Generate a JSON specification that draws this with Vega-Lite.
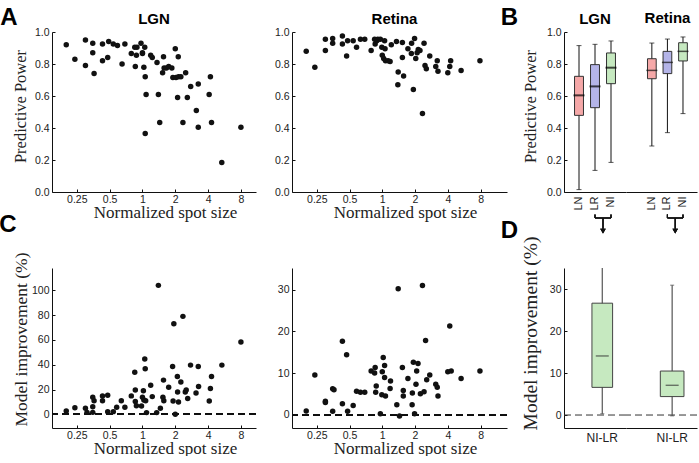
{
  "$schema": "https://vega.github.io/schema/vega-lite/v6.json",
  "background": "white",
  "padding": {"left": -1, "top": 6, "right": 0, "bottom": 0},
  "config": {
    "view": {"stroke": null},
    "axis": {
      "grid": false,
      "labelFont": "Liberation Sans",
      "labelFontSize": 10.5,
      "labelColor": "#222",
      "labelFlush": false,
      "labelOverlap": false,
      "domainColor": "#111",
      "tickColor": "#111",
      "tickSize": -3,
      "labelPadding": 6,
      "titleFont": "Liberation Serif",
      "titleFontSize": 17,
      "titleFontWeight": "normal",
      "titleColor": "#222"
    },
    "title": {"font": "Liberation Sans", "fontSize": 15, "fontWeight": "bold", "color": "#000"}
  },
  "datasets": {
    "aLGN": [
      {"s":0.2,"v":0.92},{"s":0.24,"v":0.83},{"s":0.3,"v":0.95},{"s":0.3,"v":0.79},{"s":0.35,"v":0.93},{"s":0.35,"v":0.87},{"s":0.36,"v":0.74},{"s":0.43,"v":0.925},{"s":0.43,"v":0.82},{"s":0.49,"v":0.94},{"s":0.48,"v":0.84},{"s":0.54,"v":0.925},{"s":0.59,"v":0.915},{"s":0.65,"v":0.8},{"s":0.69,"v":0.925},{"s":0.79,"v":0.865},{"s":0.85,"v":0.905},{"s":0.86,"v":0.785},{"s":0.88,"v":0.855},{"s":0.89,"v":0.905},{"s":0.97,"v":0.93},{"s":1.0,"v":0.865},{"s":1.0,"v":0.87},{"s":1.03,"v":0.78},{"s":1.05,"v":0.905},{"s":1.06,"v":0.72},{"s":1.08,"v":0.61},{"s":1.06,"v":0.365},{"s":1.19,"v":0.855},{"s":1.23,"v":0.84},{"s":1.36,"v":0.81},{"s":1.4,"v":0.61},{"s":1.44,"v":0.435},{"s":1.53,"v":0.745},{"s":1.56,"v":0.845},{"s":1.58,"v":0.775},{"s":1.66,"v":0.775},{"s":1.74,"v":0.785},{"s":1.86,"v":0.775},{"s":1.9,"v":0.715},{"s":2.0,"v":0.895},{"s":2.03,"v":0.715},{"s":2.1,"v":0.59},{"s":2.13,"v":0.845},{"s":2.14,"v":0.72},{"s":2.25,"v":0.72},{"s":2.35,"v":0.435},{"s":2.49,"v":0.745},{"s":2.58,"v":0.59},{"s":2.77,"v":0.66},{"s":3.12,"v":0.51},{"s":3.25,"v":0.675},{"s":3.25,"v":0.405},{"s":4.09,"v":0.61},{"s":4.2,"v":0.72},{"s":4.3,"v":0.435},{"s":5.34,"v":0.185},{"s":8.0,"v":0.405}
    ],
    "aRet": [
      {"s":0.2,"v":0.88},{"s":0.24,"v":0.78},{"s":0.3,"v":0.955},{"s":0.3,"v":0.885},{"s":0.35,"v":0.96},{"s":0.35,"v":0.93},{"s":0.43,"v":0.975},{"s":0.43,"v":0.925},{"s":0.47,"v":0.85},{"s":0.48,"v":0.945},{"s":0.54,"v":0.945},{"s":0.58,"v":0.905},{"s":0.63,"v":0.955},{"s":0.69,"v":0.955},{"s":0.79,"v":0.885},{"s":0.85,"v":0.955},{"s":0.86,"v":0.925},{"s":0.89,"v":0.945},{"s":0.91,"v":0.955},{"s":0.96,"v":0.955},{"s":0.99,"v":0.905},{"s":1.0,"v":0.855},{"s":1.03,"v":0.835},{"s":1.06,"v":0.895},{"s":1.05,"v":0.945},{"s":1.07,"v":0.82},{"s":1.13,"v":0.82},{"s":1.18,"v":0.815},{"s":1.21,"v":0.92},{"s":1.35,"v":0.94},{"s":1.4,"v":0.75},{"s":1.39,"v":0.67},{"s":1.53,"v":0.935},{"s":1.53,"v":0.84},{"s":1.57,"v":0.725},{"s":1.72,"v":0.895},{"s":1.86,"v":0.93},{"s":1.85,"v":0.865},{"s":1.93,"v":0.64},{"s":1.98,"v":0.96},{"s":2.03,"v":0.835},{"s":2.09,"v":0.87},{"s":2.14,"v":0.89},{"s":2.22,"v":0.885},{"s":2.34,"v":0.49},{"s":2.42,"v":0.93},{"s":2.47,"v":0.79},{"s":2.54,"v":0.77},{"s":2.73,"v":0.85},{"s":3.1,"v":0.785},{"s":3.2,"v":0.82},{"s":3.25,"v":0.755},{"s":4.0,"v":0.745},{"s":4.17,"v":0.785},{"s":4.25,"v":0.82},{"s":5.3,"v":0.76},{"s":7.9,"v":0.82}
    ],
    "cLGN": [
      {"s":0.2,"v":2.7},{"s":0.24,"v":5.4},{"s":0.3,"v":4.9},{"s":0.31,"v":1.6},{"s":0.35,"v":6.2},{"s":0.36,"v":11},{"s":0.35,"v":13.8},{"s":0.35,"v":1.6},{"s":0.43,"v":14.9},{"s":0.43,"v":11},{"s":0.48,"v":15.4},{"s":0.48,"v":2.2},{"s":0.54,"v":2.2},{"s":0.58,"v":5.7},{"s":0.64,"v":11},{"s":0.69,"v":5.7},{"s":0.79,"v":14.9},{"s":0.85,"v":34},{"s":0.86,"v":19.7},{"s":0.86,"v":10.3},{"s":0.88,"v":7},{"s":0.98,"v":6.8},{"s":1.0,"v":13.8},{"s":1.02,"v":19},{"s":1.03,"v":11.6},{"s":1.05,"v":44.6},{"s":1.06,"v":36.8},{"s":1.07,"v":11},{"s":1.09,"v":1.4},{"s":1.19,"v":23.5},{"s":1.23,"v":14.3},{"s":1.35,"v":1.4},{"s":1.4,"v":104},{"s":1.46,"v":4.9},{"s":1.56,"v":27.6},{"s":1.54,"v":13.8},{"s":1.57,"v":11},{"s":1.74,"v":21.9},{"s":1.89,"v":38.6},{"s":1.94,"v":73},{"s":1.91,"v":10.8},{"s":2.0,"v":0},{"s":2.09,"v":30.5},{"s":2.1,"v":18},{"s":2.14,"v":10},{"s":2.25,"v":26},{"s":2.35,"v":79},{"s":2.47,"v":18},{"s":2.52,"v":19.7},{"s":2.6,"v":12.7},{"s":2.76,"v":39.7},{"s":3.1,"v":17.3},{"s":3.25,"v":38.6},{"s":3.27,"v":22.4},{"s":4.1,"v":10.8},{"s":4.2,"v":20.8},{"s":4.3,"v":30.5},{"s":5.35,"v":39.7},{"s":8.0,"v":58.4}
    ],
    "cRet": [
      {"s":0.2,"v":0.9},{"s":0.24,"v":9.5},{"s":0.3,"v":3.2},{"s":0.3,"v":2.9},{"s":0.35,"v":6.2},{"s":0.36,"v":6},{"s":0.35,"v":0.8},{"s":0.43,"v":2.6},{"s":0.43,"v":17.6},{"s":0.47,"v":14.4},{"s":0.48,"v":0.8},{"s":0.54,"v":2.2},{"s":0.58,"v":5.6},{"s":0.63,"v":5.4},{"s":0.69,"v":5.4},{"s":0.79,"v":10.5},{"s":0.85,"v":10},{"s":0.86,"v":11.3},{"s":0.87,"v":5.4},{"s":0.88,"v":6.9},{"s":0.96,"v":0.2},{"s":0.99,"v":4.8},{"s":1.0,"v":10.3},{"s":1.02,"v":13.7},{"s":1.05,"v":11.8},{"s":1.05,"v":8.9},{"s":1.07,"v":4.5},{"s":1.19,"v":8.1},{"s":1.18,"v":6.3},{"s":1.36,"v":2.4},{"s":1.4,"v":30.2},{"s":1.44,"v":-0.3},{"s":1.53,"v":11.3},{"s":1.56,"v":5.8},{"s":1.56,"v":4.5},{"s":1.72,"v":8.7},{"s":1.88,"v":2.4},{"s":1.89,"v":5.2},{"s":1.93,"v":12.6},{"s":1.98,"v":0.2},{"s":2.04,"v":7.3},{"s":2.13,"v":12.3},{"s":2.07,"v":10.5},{"s":2.24,"v":5},{"s":2.34,"v":31},{"s":2.42,"v":5.5},{"s":2.5,"v":17.8},{"s":2.56,"v":8.4},{"s":2.73,"v":9.5},{"s":3.1,"v":7.3},{"s":3.2,"v":6.6},{"s":3.25,"v":4.5},{"s":4.0,"v":10.3},{"s":4.17,"v":21.3},{"s":4.3,"v":10.5},{"s":5.3,"v":8.7},{"s":7.9,"v":10.5}
    ],
    "bLGN": [
      {"model":"LN","lo":0.015,"q1":0.479,"med":0.604,"q3":0.723,"hi":0.915},
      {"model":"LR","lo":0.135,"q1":0.527,"med":0.66,"q3":0.796,"hi":0.923},
      {"model":"NI","lo":0.185,"q1":0.677,"med":0.777,"q3":0.869,"hi":0.944}
    ],
    "bRet": [
      {"model":"LN","lo":0.2875,"q1":0.708,"med":0.76,"q3":0.833,"hi":0.931},
      {"model":"LR","lo":0.371,"q1":0.74,"med":0.81,"q3":0.879,"hi":0.956},
      {"model":"NI","lo":0.49,"q1":0.819,"med":0.879,"q3":0.933,"hi":0.969}
    ],
    "dLGN": [{"region":"LGN","lo":0.3,"q1":6.6,"med":14.1,"q3":26.7,"hi":104}],
    "dRet": [{"region":"Retina","lo":-0.2,"q1":4.4,"med":7.1,"q3":10.5,"hi":31}],
    "blank": [{}]
  },
  "bounds": "flush",
  "columns": 7,
  "spacing": {"row": 76, "column": 0},
  "concat": [
    {"width": 52, "height": 160, "title": {"text": "A", "anchor": "middle", "frame": "group", "fontSize": 24, "baseline": "alphabetic", "offset": 7, "dx": -17, "dy": 24},
     "data": {"name": "blank"}, "mark": {"type": "point", "opacity": 0}},
    {
      "width": 204, "height": 160,
      "title": {"text": "LGN", "offset": 0},
      "data": {"name": "aLGN"},
      "mark": {"type": "point", "filled": true, "size": 30, "color": "#111", "opacity": 1},
      "encoding": {
        "x": {"field": "s", "type": "quantitative", "scale": {"type": "log", "base": 2, "domain": [0.148, 11], "nice": false},
              "axis": {"values": [0.25,0.5,1,2,4,8], "format": "~g", "labelOverlap": false, "labelPadding": 5, "title": "Normalized spot size", "titleX": 113, "titleY": 25, "titleBaseline": "alphabetic"}},
        "y": {"field": "v", "type": "quantitative", "scale": {"domain": [0, 1], "nice": false},
              "axis": {"values": [0,0.2,0.4,0.6,0.8,1], "format": ".1f", "labelOverlap": false, "title": "Predictive Power", "titleFontSize": 16.5, "titleX": -27, "titleY": 74, "titleBaseline": "alphabetic"}}
      }
    },
    {"width": 36, "height": 160, "data": {"name": "blank"}, "mark": {"type": "point", "opacity": 0}},
    {
      "width": 215, "height": 160,
      "title": {"text": "Retina", "offset": 0, "dx": -5},
      "data": {"name": "aRet"},
      "mark": {"type": "point", "filled": true, "size": 30, "color": "#111", "opacity": 1},
      "encoding": {
        "x": {"field": "s", "type": "quantitative", "scale": {"type": "log", "base": 2, "domain": [0.148, 14], "nice": false},
              "axis": {"values": [0.25,0.5,1,2,4,8], "format": "~g", "labelOverlap": false, "labelPadding": 5, "title": "Normalized spot size", "titleX": 113, "titleY": 25, "titleBaseline": "alphabetic"}},
        "y": {"field": "v", "type": "quantitative", "scale": {"domain": [0, 1], "nice": false},
              "axis": {"values": [0,0.2,0.4,0.6,0.8,1], "format": ".1f", "labelOverlap": false, "title": null}}
      }
    },
    {"width": 57, "height": 160, "title": {"text": "B", "anchor": "middle", "frame": "group", "fontSize": 24, "baseline": "alphabetic", "offset": 7, "dx": -26, "dy": 24},
     "data": {"name": "blank"}, "mark": {"type": "point", "opacity": 0}},
    {
      "width": 62, "height": 160,
      "title": {"text": "LGN", "offset": 0},
      "data": {"name": "bLGN"},
      "encoding": {
        "x": {"field": "model", "type": "nominal", "sort": null,
              "scale": {"domain": ["LN","LR","NI"], "paddingInner": 0.44, "paddingOuter": 0.6575, "align": 0.5},
              "axis": {"labelAngle": 270, "ticks": false, "title": null, "labelFontSize": 11, "labelPadding": 4, "labelOverlap": false}}
      },
      "layer": [
        {"mark": {"type": "rule", "color": "#111", "strokeWidth": 1},
         "encoding": {"y": {"field": "lo", "type": "quantitative", "scale": {"domain": [0, 1], "nice": false},
                            "axis": {"values": [0,0.2,0.4,0.6,0.8,1], "format": ".1f", "labelOverlap": false, "title": "Predictive Power", "titleFontSize": 16.5, "titleX": -29, "titleY": 74, "titleBaseline": "alphabetic"}},
                      "y2": {"field": "hi"}}},
        {"mark": {"type": "bar", "stroke": "#333", "strokeWidth": 1},
         "encoding": {"y": {"field": "q1", "type": "quantitative",
                            "axis": {"values": [0,0.2,0.4,0.6,0.8,1], "format": ".1f", "labelOverlap": false, "title": "Predictive Power", "titleFontSize": 16.5, "titleX": -29, "titleY": 74, "titleBaseline": "alphabetic"}}, "y2": {"field": "q3"},
                      "color": {"field": "model", "type": "nominal", "scale": {"domain": ["LN","LR","NI"], "range": ["#f5a8a8", "#b4b4e8", "#c6e9c0"]}, "legend": null}}},
        {"mark": {"type": "tick", "color": "#111", "size": 5, "thickness": 1}, "encoding": {"y": {"field": "lo", "type": "quantitative",
                            "axis": {"values": [0,0.2,0.4,0.6,0.8,1], "format": ".1f", "labelOverlap": false, "title": "Predictive Power", "titleFontSize": 16.5, "titleX": -29, "titleY": 74, "titleBaseline": "alphabetic"}}}},
        {"mark": {"type": "tick", "color": "#111", "size": 5, "thickness": 1}, "encoding": {"y": {"field": "hi", "type": "quantitative",
                            "axis": {"values": [0,0.2,0.4,0.6,0.8,1], "format": ".1f", "labelOverlap": false, "title": "Predictive Power", "titleFontSize": 16.5, "titleX": -29, "titleY": 74, "titleBaseline": "alphabetic"}}}},
        {"mark": {"type": "tick", "color": "#000", "size": 11, "thickness": 2}, "encoding": {"y": {"field": "med", "type": "quantitative",
                            "axis": {"values": [0,0.2,0.4,0.6,0.8,1], "format": ".1f", "labelOverlap": false, "title": "Predictive Power", "titleFontSize": 16.5, "titleX": -29, "titleY": 74, "titleBaseline": "alphabetic"}}}},
        {"mark": {"type": "rule", "color": "#111", "strokeWidth": 1.2},
         "encoding": {"x": {"datum": "LR"}, "x2": {"datum": "NI"}, "y": {"datum": -0.1625, "type": "quantitative",
                            "axis": {"values": [0,0.2,0.4,0.6,0.8,1], "format": ".1f", "labelOverlap": false, "title": "Predictive Power", "titleFontSize": 16.5, "titleX": -29, "titleY": 74, "titleBaseline": "alphabetic"}}}},
        {"mark": {"type": "rule", "color": "#111", "strokeWidth": 1.2},
         "encoding": {"x": {"datum": "LR"}, "y": {"datum": -0.14, "type": "quantitative",
                            "axis": {"values": [0,0.2,0.4,0.6,0.8,1], "format": ".1f", "labelOverlap": false, "title": "Predictive Power", "titleFontSize": 16.5, "titleX": -29, "titleY": 74, "titleBaseline": "alphabetic"}}, "y2": {"datum": -0.1625}}},
        {"mark": {"type": "rule", "color": "#111", "strokeWidth": 1.2},
         "encoding": {"x": {"datum": "NI"}, "y": {"datum": -0.14, "type": "quantitative",
                            "axis": {"values": [0,0.2,0.4,0.6,0.8,1], "format": ".1f", "labelOverlap": false, "title": "Predictive Power", "titleFontSize": 16.5, "titleX": -29, "titleY": 74, "titleBaseline": "alphabetic"}}, "y2": {"datum": -0.1625}}},
        {"mark": {"type": "rule", "color": "#111", "strokeWidth": 1.2},
         "encoding": {"x": {"datum": "LR", "bandPosition": 1.393}, "y": {"datum": -0.1625, "type": "quantitative",
                            "axis": {"values": [0,0.2,0.4,0.6,0.8,1], "format": ".1f", "labelOverlap": false, "title": "Predictive Power", "titleFontSize": 16.5, "titleX": -29, "titleY": 74, "titleBaseline": "alphabetic"}}, "y2": {"datum": -0.23}}},
        {"mark": {"type": "point", "shape": "triangle-down", "filled": true, "color": "#111", "size": 30, "opacity": 1},
         "encoding": {"x": {"datum": "LR", "bandPosition": 1.393}, "y": {"datum": -0.245, "type": "quantitative",
                            "axis": {"values": [0,0.2,0.4,0.6,0.8,1], "format": ".1f", "labelOverlap": false, "title": "Predictive Power", "titleFontSize": 16.5, "titleX": -29, "titleY": 74, "titleBaseline": "alphabetic"}}}}
      ]
    },
    {
      "width": 71, "height": 160,
      "title": {"text": "Retina", "offset": 6, "dx": 6},
      "data": {"name": "bRet"},
      "encoding": {
        "x": {"field": "model", "type": "nominal", "sort": null,
              "scale": {"domain": ["LN","LR","NI"], "paddingInner": 0.44, "paddingOuter": 1.01, "align": 0.69},
              "axis": {"labelAngle": 270, "ticks": false, "title": null, "labelFontSize": 11, "labelPadding": 4, "labelOverlap": false}}
      },
      "layer": [
        {"mark": {"type": "rule", "color": "#111", "strokeWidth": 1},
         "encoding": {"y": {"field": "lo", "type": "quantitative", "scale": {"domain": [0, 1], "nice": false}, "axis": null},
                      "y2": {"field": "hi"}}},
        {"mark": {"type": "bar", "stroke": "#333", "strokeWidth": 1},
         "encoding": {"y": {"field": "q1", "type": "quantitative", "axis": null}, "y2": {"field": "q3"},
                      "color": {"field": "model", "type": "nominal", "scale": {"domain": ["LN","LR","NI"], "range": ["#f5a8a8", "#b4b4e8", "#c6e9c0"]}, "legend": null}}},
        {"mark": {"type": "tick", "color": "#111", "size": 5, "thickness": 1}, "encoding": {"y": {"field": "lo", "type": "quantitative", "axis": null}}},
        {"mark": {"type": "tick", "color": "#111", "size": 5, "thickness": 1}, "encoding": {"y": {"field": "hi", "type": "quantitative", "axis": null}}},
        {"mark": {"type": "tick", "color": "#111", "size": 11, "thickness": 1.5}, "encoding": {"y": {"field": "med", "type": "quantitative", "axis": null}}},
        {"mark": {"type": "rule", "color": "#111", "strokeWidth": 1.2},
         "encoding": {"x": {"datum": "LR"}, "x2": {"datum": "NI"}, "y": {"datum": -0.1625, "type": "quantitative", "axis": null}}},
        {"mark": {"type": "rule", "color": "#111", "strokeWidth": 1.2},
         "encoding": {"x": {"datum": "LR"}, "y": {"datum": -0.14, "type": "quantitative", "axis": null}, "y2": {"datum": -0.1625}}},
        {"mark": {"type": "rule", "color": "#111", "strokeWidth": 1.2},
         "encoding": {"x": {"datum": "NI"}, "y": {"datum": -0.14, "type": "quantitative", "axis": null}, "y2": {"datum": -0.1625}}},
        {"mark": {"type": "rule", "color": "#111", "strokeWidth": 1.2},
         "encoding": {"x": {"datum": "LR", "bandPosition": 1.393}, "y": {"datum": -0.1625, "type": "quantitative", "axis": null}, "y2": {"datum": -0.23}}},
        {"mark": {"type": "point", "shape": "triangle-down", "filled": true, "color": "#111", "size": 30, "opacity": 1},
         "encoding": {"x": {"datum": "LR", "bandPosition": 1.393}, "y": {"datum": -0.245, "type": "quantitative", "axis": null}}}
      ]
    },
    {"width": 52, "height": 160, "title": {"text": "C", "anchor": "middle", "frame": "group", "fontSize": 24, "baseline": "alphabetic", "offset": 12, "dx": -18},
     "data": {"name": "blank"}, "mark": {"type": "point", "opacity": 0}},
    {
      "width": 204, "height": 160,
      "data": {"name": "cLGN"},
      "layer": [
        {"mark": {"type": "rule", "strokeDash": [7, 4], "color": "#111", "strokeWidth": 1},
         "encoding": {"y": {"datum": 0, "type": "quantitative",
                "axis": {"values": [0,20,40,60,80,100], "labelOverlap": false, "title": "Model improvement (%)", "titleFontSize": 17.5, "titleX": -26, "titleY": 71, "titleBaseline": "alphabetic"}}}},
        {"mark": {"type": "point", "filled": true, "size": 30, "color": "#111", "opacity": 1},
         "encoding": {
          "x": {"field": "s", "type": "quantitative", "scale": {"type": "log", "base": 2, "domain": [0.148, 11], "nice": false},
                "axis": {"values": [0.25,0.5,1,2,4,8], "format": "~g", "labelOverlap": false, "labelPadding": 5, "title": "Normalized spot size", "titleX": 113, "titleY": 25, "titleBaseline": "alphabetic"}},
          "y": {"field": "v", "type": "quantitative", "scale": {"domain": [-11, 118], "nice": false},
                "axis": {"values": [0,20,40,60,80,100], "labelOverlap": false, "title": "Model improvement (%)", "titleFontSize": 17.5, "titleX": -26, "titleY": 71, "titleBaseline": "alphabetic"}}
         }}
      ]
    },
    {"width": 36, "height": 160, "data": {"name": "blank"}, "mark": {"type": "point", "opacity": 0}},
    {
      "width": 215, "height": 160,
      "data": {"name": "cRet"},
      "layer": [
        {"mark": {"type": "rule", "strokeDash": [7, 4], "color": "#111", "strokeWidth": 1},
         "encoding": {"y": {"datum": 0, "type": "quantitative", "axis": {"values": [0,10,20,30], "labelOverlap": false, "title": null}}}},
        {"mark": {"type": "point", "filled": true, "size": 30, "color": "#111", "opacity": 1},
         "encoding": {
          "x": {"field": "s", "type": "quantitative", "scale": {"type": "log", "base": 2, "domain": [0.148, 14], "nice": false},
                "axis": {"values": [0.25,0.5,1,2,4,8], "format": "~g", "labelOverlap": false, "labelPadding": 5, "title": "Normalized spot size", "titleX": 113, "titleY": 25, "titleBaseline": "alphabetic"}},
          "y": {"field": "v", "type": "quantitative", "scale": {"domain": [-3.2, 35.2], "nice": false},
                "axis": {"values": [0,10,20,30], "labelOverlap": false, "title": null}}
         }}
      ]
    },
    {"width": 57, "height": 160, "title": {"text": "D", "anchor": "middle", "frame": "group", "fontSize": 24, "baseline": "alphabetic", "offset": 6, "dx": -26},
     "data": {"name": "blank"}, "mark": {"type": "point", "opacity": 0}},
    {
      "width": 62, "height": 160,
      "data": {"name": "dLGN"},
      "encoding": {
        "x": {"field": "region", "type": "nominal",
              "scale": {"domain": ["LGN"], "paddingInner": 0, "paddingOuter": 2.318, "align": 0.676},
              "axis": {"labelExpr": "'NI-LR'", "labelAngle": 0, "ticks": false, "title": null, "labelPadding": 4, "labelFontSize": 12}}
      },
      "layer": [
        {"mark": {"type": "rule", "strokeDash": [7, 4], "color": "#333", "strokeWidth": 1},
         "encoding": {"x": null, "y": {"datum": 0, "type": "quantitative", "scale": {"domain": [-3.1, 35.1], "nice": false, "clamp": true},
                             "axis": {"values": [0,10,20,30], "labelOverlap": false, "title": "Model improvement (%)", "titleFontSize": 19.5, "titleX": -28, "titleY": 65, "titleBaseline": "alphabetic"}}}},
        {"mark": {"type": "rule", "color": "#555", "strokeWidth": 1.2},
         "encoding": {"y": {"field": "lo", "type": "quantitative"}, "y2": {"field": "hi"}}},
        {"mark": {"type": "bar", "stroke": "#444", "strokeWidth": 1, "color": "#c6e9c0"},
         "encoding": {"y": {"field": "q1", "type": "quantitative"}, "y2": {"field": "q3"}}},
        {"mark": {"type": "tick", "color": "#444", "size": 4, "thickness": 1}, "encoding": {"y": {"field": "lo", "type": "quantitative"}}},
        {"mark": {"type": "tick", "color": "#333", "size": 13, "thickness": 1.3}, "encoding": {"y": {"field": "med", "type": "quantitative"}}}
      ]
    },
    {
      "width": 71, "height": 160,
      "data": {"name": "dRet"},
      "encoding": {
        "x": {"field": "region", "type": "nominal",
              "scale": {"domain": ["Retina"], "paddingInner": 0, "paddingOuter": 2.727, "align": 0.725},
              "axis": {"labelExpr": "'NI-LR'", "labelAngle": 0, "ticks": false, "title": null, "labelPadding": 4, "labelFontSize": 12}}
      },
      "layer": [
        {"mark": {"type": "rule", "strokeDash": [7, 4], "color": "#333", "strokeWidth": 1},
         "encoding": {"x": null, "y": {"datum": 0, "type": "quantitative", "scale": {"domain": [-3.1, 35.1], "nice": false, "clamp": true}, "axis": null}}},
        {"mark": {"type": "rule", "color": "#555", "strokeWidth": 1.2},
         "encoding": {"y": {"field": "lo", "type": "quantitative", "axis": null}, "y2": {"field": "hi"}}},
        {"mark": {"type": "bar", "stroke": "#444", "strokeWidth": 1, "color": "#c6e9c0"},
         "encoding": {"y": {"field": "q1", "type": "quantitative", "axis": null}, "y2": {"field": "q3"}}},
        {"mark": {"type": "tick", "color": "#444", "size": 4, "thickness": 1}, "encoding": {"y": {"field": "lo", "type": "quantitative", "axis": null}}},
        {"mark": {"type": "tick", "color": "#444", "size": 4, "thickness": 1}, "encoding": {"y": {"field": "hi", "type": "quantitative", "axis": null}}},
        {"mark": {"type": "tick", "color": "#333", "size": 13, "thickness": 1.3}, "encoding": {"y": {"field": "med", "type": "quantitative", "axis": null}}}
      ]
    }
  ]
}
